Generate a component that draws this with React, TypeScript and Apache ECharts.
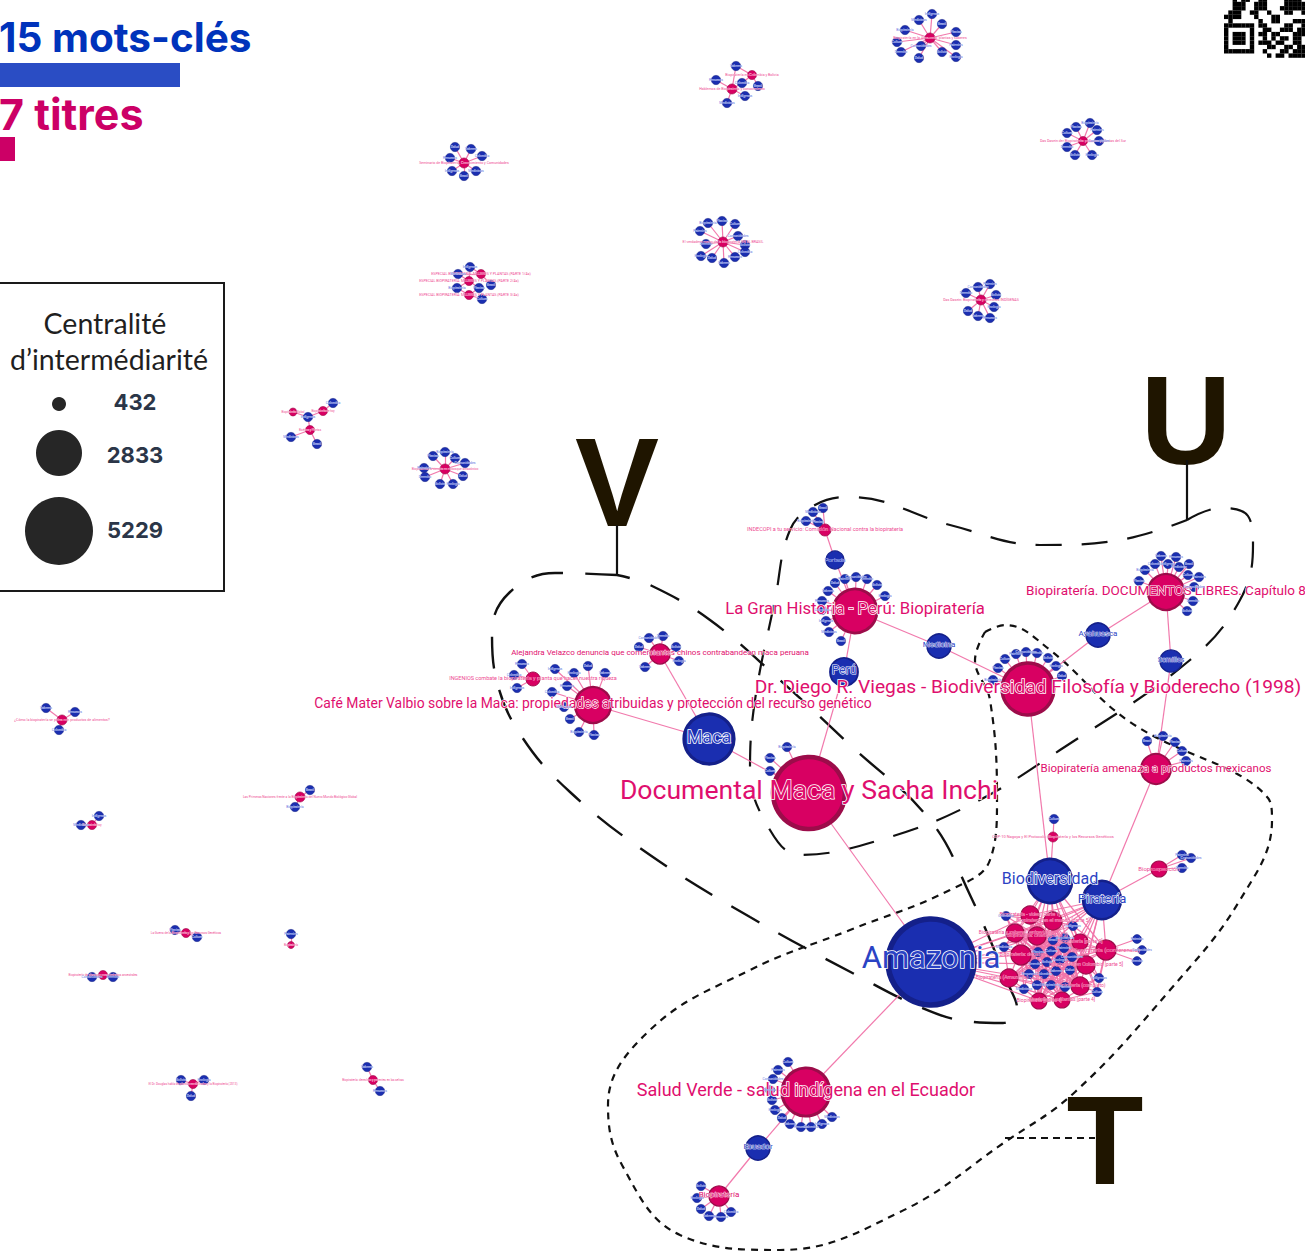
import React, { useEffect, useRef } from "react";
import * as echarts from "echarts";

const W = 1305;
const H = 1256;
const PINK = "#d80062";
const PINK_DARK = "#9c0c4a";
const BLUE = "#1a2eb0";
const BLUE_DARK = "#14208a";
const EDGE = "#f072a8";

// [label, x, y, radius, label font size]
type N = [string, number, number, number, number];

const titleNodes: N[] = [
  ["Documental Maca y Sacha Inchi", 809, 793, 36, 26.6],
  ["La Gran Historia - Perú: Biopiratería", 855, 611, 22, 16.7],
  ["Dr. Diego R. Viegas - Biodiversidad Filosofía y Bioderecho (1998)", 1028, 689, 26, 19.2],
  ["Biopiratería. DOCUMENTOS LIBRES. Capítulo 8", 1166, 592, 18, 13.5],
  ["Café Mater Valbio sobre la Maca: propiedades atribuidas y protección del recurso genético", 593, 705, 18, 13.9],
  ["Salud Verde - salud indígena en el Ecuador", 806, 1092, 24, 18],
  ["Biopiratería amenaza a productos mexicanos", 1156, 769, 15, 11.5],
  ["Alejandra Velazco denuncia que comerciantes chinos contrabandean maca peruana", 660, 654, 10, 8],
  ["INGENIOS combate la biopiratería y planta que hacer nuestra riqueza", 533, 679, 7, 5.5],
  ["INDECOPI a tu servicio: Comisión Nacional contra la biopiratería", 825, 530, 6, 5.5],
  ["COP-10 Nagoya y El Protocolo: Biopiratería y los Recursos Genéticos", 1053, 837, 5, 4],
  ["Bioprospección", 1159, 869, 8, 6],
  ["Biopiratería", 719, 1196, 10, 8],
  ["Biopiratería en la Amazonía: plantas y saberes", 930, 38, 5, 3.6],
  ["Hablemos de Biopiratería y conocimiento", 732, 89, 5, 3.6],
  ["Biopiratería en Colombia y Bolivia", 752, 75, 4.5, 3.6],
  ["Das Dasein der Biopiratería: patentes y plantas del Sur", 1083, 141, 4.5, 3.6],
  ["Seminario de Biopiratería, Conocimiento y Comunidades", 464, 163, 5, 3.6],
  ["El verdadero rostro de la biopiratería EN EL BRASIL", 723, 242, 5, 3.6],
  ["ESPECIAL BIOPIRATERÍA: MUJERES Y PLANTAS (PARTE 1/4a)", 481, 274, 4.5, 3.6],
  ["ESPECIAL BIOPIRATERÍA: MUJERES Y PLANTAS (PARTE 2/4a)", 469, 281, 4.5, 3.6],
  ["ESPECIAL BIOPIRATERÍA: MUJERES Y PLANTAS (PARTE 3/4a)", 469, 295, 4.5, 3.6],
  ["Das Dasein: Biopiratería y derechos INDÍGENAS", 981, 300, 5, 3.6],
  ["Biopiratería de hoy", 323, 411, 4.5, 2.8],
  ["Bioética y Plantas", 310, 430, 4.5, 2.8],
  ["Biopiratería Global", 293, 412, 4, 2.8],
  ["Biopiratería: la ciencia en el bosque amazónico", 445, 469, 5, 3.2],
  ["¿Cómo la biopiratería se pelea con productos de alimentos?", 62, 720, 5, 3.6],
  ["Biopiratería hoy", 92, 825, 4.5, 2.8],
  ["Las Primeras Naciones frente a la Biopiratería del Nuevo Mundo Biológico Global", 300, 797, 5, 3.2],
  ["La Guerra de la Biopiratería y los Recursos Genéticos", 186, 933, 4.5, 3],
  ["Biopiratería", 291, 945, 3.5, 2.8],
  ["Biopiratería de plantas y conocimientos ancestrales", 103, 975, 4.5, 3],
  ["El Dr. Douglas habla de plantas medicinales y la Biopiratería (2013)", 193, 1084, 4.5, 3],
  ["Biopiratería: derechos y patentes en las selvas", 373, 1080, 4.5, 3],
];

const keywordNodes: N[] = [
  ["Amazonia", 931, 962, 43, 31],
  ["Maca", 709, 739, 25, 18],
  ["Biodiversidad", 1050, 881, 22, 16],
  ["Piratería", 1102, 900, 19, 13],
  ["Perú", 844, 672, 14, 12],
  ["Medicina", 939, 646, 12, 8],
  ["Ayahuasca", 1098, 635, 12, 8],
  ["Semillas", 1171, 661, 11, 7],
  ["Ecuador", 758, 1148, 12, 8],
  ["Portada", 835, 560, 9, 6],
];

// Links between named titles and keywords
const bridgeLinks: [string, string][] = [
  ["Documental Maca y Sacha Inchi", "Maca"],
  ["Documental Maca y Sacha Inchi", "Perú"],
  ["Documental Maca y Sacha Inchi", "Amazonia"],
  ["Café Mater Valbio sobre la Maca: propiedades atribuidas y protección del recurso genético", "Maca"],
  ["Alejandra Velazco denuncia que comerciantes chinos contrabandean maca peruana", "Maca"],
  ["La Gran Historia - Perú: Biopiratería", "Perú"],
  ["La Gran Historia - Perú: Biopiratería", "Medicina"],
  ["La Gran Historia - Perú: Biopiratería", "Portada"],
  ["INDECOPI a tu servicio: Comisión Nacional contra la biopiratería", "Portada"],
  ["Dr. Diego R. Viegas - Biodiversidad Filosofía y Bioderecho (1998)", "Medicina"],
  ["Dr. Diego R. Viegas - Biodiversidad Filosofía y Bioderecho (1998)", "Ayahuasca"],
  ["Dr. Diego R. Viegas - Biodiversidad Filosofía y Bioderecho (1998)", "Biodiversidad"],
  ["Biopiratería. DOCUMENTOS LIBRES. Capítulo 8", "Ayahuasca"],
  ["Biopiratería. DOCUMENTOS LIBRES. Capítulo 8", "Semillas"],
  ["Biopiratería amenaza a productos mexicanos", "Semillas"],
  ["Biopiratería amenaza a productos mexicanos", "Piratería"],
  ["COP-10 Nagoya y El Protocolo: Biopiratería y los Recursos Genéticos", "Biodiversidad"],
  ["Bioprospección", "Piratería"],
  ["Salud Verde - salud indígena en el Ecuador", "Amazonia"],
  ["Salud Verde - salud indígena en el Ecuador", "Ecuador"],
  ["Biopiratería", "Ecuador"],
];

const leafWords = ["Biopiratería", "Plantas", "Cultura", "Patentes", "Comunidades", "Derecho", "Bolivia", "Ecología", "Salud", "Saberes", "Recursos", "Colombia", "Indígenas", "Medicinas", "Brasil"];

// Small keyword dots attached to a title: [title index, points]
const leafGroups: [number, [number, number][]][] = [
  [0, [[787, 747], [770, 758], [770, 771]]],
  [1, [[845, 579], [856, 577], [867, 579], [877, 585], [885, 596], [835, 583], [828, 591], [822, 601], [822, 610], [826, 621], [829, 632], [841, 641]]],
  [2, [[993, 680], [998, 668], [1005, 659], [1016, 654], [1026, 652], [1037, 653], [1048, 658], [1056, 666], [1062, 676]]],
  [3, [[1161, 556], [1176, 557], [1155, 564], [1168, 564], [1179, 567], [1189, 564], [1145, 570], [1139, 581], [1188, 575], [1199, 577], [1194, 587], [1193, 601], [1187, 611]]],
  [4, [[574, 673], [588, 666], [605, 673], [567, 686], [552, 692], [555, 669], [564, 707], [570, 719], [579, 732], [594, 735]]],
  [5, [[788, 1062], [778, 1070], [773, 1079], [770, 1090], [772, 1100], [775, 1110], [782, 1118], [790, 1124], [801, 1127], [811, 1127], [822, 1124], [832, 1117]]],
  [6, [[1147, 741], [1163, 736], [1175, 742], [1182, 751], [1186, 761]]],
  [7, [[649, 638], [663, 636], [676, 647], [679, 661], [639, 647], [645, 667]]],
  [8, [[522, 664], [514, 675], [517, 688]]],
  [9, [[813, 512], [823, 508], [806, 521], [818, 522]]],
  [10, [[1054, 819]]],
  [11, [[1182, 855], [1191, 858], [1182, 868]]],
  [12, [[701, 1186], [697, 1198], [701, 1209], [709, 1216], [721, 1217], [731, 1212]]],
  [13, [[932, 14], [919, 20], [942, 24], [905, 30], [956, 32], [897, 42], [956, 45], [921, 46], [901, 52], [942, 52], [956, 57], [919, 58]]],
  [14, [[736, 66], [716, 80], [742, 83], [745, 96], [727, 103]]],
  [15, [[736, 66], [742, 83], [758, 86]]],
  [16, [[1090, 123], [1076, 127], [1067, 133], [1097, 130], [1099, 141], [1067, 147], [1075, 155], [1092, 155]]],
  [17, [[455, 147], [471, 149], [450, 158], [482, 156], [452, 171], [476, 171], [464, 176]]],
  [18, [[708, 223], [722, 221], [735, 224], [700, 231], [738, 236], [706, 244], [745, 245], [701, 256], [712, 258], [724, 263], [735, 257], [745, 252]]],
  [19, [[470, 267], [458, 274], [491, 285]]],
  [20, [[470, 267], [458, 274], [457, 288], [479, 288]]],
  [21, [[457, 288], [479, 288], [482, 299]]],
  [22, [[990, 284], [978, 287], [966, 293], [996, 295], [994, 307], [968, 311], [978, 316], [990, 318]]],
  [23, [[333, 403], [308, 417]]],
  [24, [[308, 417], [291, 437], [317, 444]]],
  [25, [[308, 417]]],
  [26, [[445, 452], [433, 456], [455, 458], [424, 468], [465, 463], [425, 477], [440, 484], [453, 484], [463, 476]]],
  [27, [[46, 708], [75, 712], [59, 730]]],
  [28, [[99, 816], [81, 825]]],
  [29, [[310, 790], [295, 807]]],
  [30, [[175, 930], [197, 937]]],
  [31, [[291, 934]]],
  [32, [[92, 977], [113, 977]]],
  [33, [[181, 1080], [204, 1080], [191, 1096]]],
  [34, [[367, 1067], [380, 1091]]],
];

// Dense core
const coreTitles: N[] = [
  ["Biopiratería - video [parte 1]", 1030, 915, 9, 5],
  ["Biopiratería en el mundo [parte 5]", 1053, 921, 9, 5],
  ["Biopiratería y saberes: entrevista", 1015, 933, 9, 5],
  ["Biopiratería: charla [parte 2]", 1037, 936, 9, 5],
  ["Biopiratería [parte 3]", 1080, 942, 8, 5],
  ["Biopiratería (conferencia)", 1106, 950, 10, 6],
  ["Biopiratería: debate", 1021, 955, 10, 5],
  ["Biopiratería en Colombia [parte 5]", 1086, 965, 9, 5],
  ["Biopiratería (Amazonía) - Foro", 1009, 978, 9, 5],
  ["Biopiratería (completo)", 1080, 986, 9, 5],
  ["Biopiratería [parte 4]", 1039, 1001, 8, 5],
  ["Biopiratería y plantas [parte 4]", 1062, 1000, 8, 5],
];
const coreKeywords: [number, number][] = [
  [1006, 916], [1073, 926], [1004, 947], [1053, 940], [1065, 938], [1038, 952], [1051, 951], [1064, 948], [1072, 957], [1035, 964], [1047, 962], [1060, 960], [1070, 970], [1056, 971], [1029, 974], [1044, 974], [1099, 978], [1024, 989], [1037, 985], [1051, 985], [1065, 987], [1097, 992],
];
const coreOuterLeaves: [number, number][] = [[1137, 939], [1142, 950], [1137, 961]];
const coreToHubs: [number, string[]][] = [
  [0, ["Amazonia", "Biodiversidad", "Piratería"]],
  [1, ["Amazonia", "Biodiversidad", "Piratería"]],
  [2, ["Amazonia", "Biodiversidad", "Piratería"]],
  [3, ["Amazonia", "Biodiversidad", "Piratería"]],
  [4, ["Amazonia", "Biodiversidad", "Piratería"]],
  [5, ["Biodiversidad", "Piratería"]],
  [6, ["Amazonia", "Biodiversidad", "Piratería"]],
  [7, ["Amazonia", "Biodiversidad", "Piratería"]],
  [8, ["Amazonia", "Biodiversidad", "Piratería"]],
  [9, ["Amazonia", "Biodiversidad", "Piratería"]],
  [10, ["Amazonia", "Biodiversidad", "Piratería"]],
  [11, ["Amazonia", "Biodiversidad", "Piratería"]],
];

// Hand-drawn hulls
const hullV: [number, number][] = [[617, 575], [555, 573], [510, 592], [492, 632], [497, 682], [522, 737], [570, 792], [650, 855], [750, 917], [860, 977], [920, 1007], [965, 1021], [1003, 1023], [1017, 1008], [1010, 988], [970, 895], [930, 820], [850, 745], [780, 680], [710, 620], [650, 585], [617, 575]];
const hullU: [number, number][] = [[1187, 520], [1220, 508], [1248, 516], [1253, 545], [1240, 600], [1190, 660], [1060, 750], [970, 805], [880, 840], [800, 855], [770, 830], [750, 770], [755, 700], [775, 600], [790, 530], [815, 505], [850, 497], [950, 525], [1040, 545], [1120, 540], [1187, 520]];
const hullT: [number, number][] = [[985, 632], [1005, 625], [1050, 650], [1130, 722], [1268, 798], [1272, 820], [1240, 900], [1170, 990], [1075, 1092], [1005, 1142], [900, 1212], [780, 1250], [680, 1235], [622, 1165], [608, 1105], [650, 1030], [750, 970], [850, 930], [950, 890], [990, 860], [997, 800], [990, 700], [975, 660], [985, 632]];
const stemV: [number, number][] = [[617, 525], [617, 575]];
const stemU: [number, number][] = [[1187, 460], [1187, 520]];
const stemT: [number, number][] = [[1005, 1138], [1095, 1138]];

const legendValues = ["432", "2833", "5229"];
const legendCenters: [number, number][] = [[59, 404], [59, 453], [59, 531]];
const legendSizes = [14, 46, 68];

const countLabels = ["15 mots-clés", "7 titres"];
const countBars = [180, 15];

const qrRows = [
  "00101100110000111100",
  "00111001110000111110",
  "00111001110001111110",
  "01110011001000110011",
  "11110001000110000000",
  "01000000100110001111",
  "11111110110000110011",
  "10000010011001110110",
  "10111010110110001111",
  "10111010010101101101",
  "10111010111011001100",
  "10000010001100110111",
  "11111110010001101110",
  "00000000001011011111",
];

function buildGraph() {
  const nodes: any[] = [];
  const links: any[] = [];
  const index: Record<string, number> = {};
  const add = (name: string, x: number, y: number, r: number, fs: number, kind: "t" | "k") => {
    const i = nodes.length;
    const t = kind === "t";
    const tiny = fs < 6.5;
    nodes.push({
      id: String(i),
      name,
      value: [x, y],
      symbolSize: 2 * r,
      itemStyle: {
        color: t ? PINK : BLUE,
        borderColor: t ? PINK_DARK : BLUE_DARK,
        borderWidth: Math.max(0.6, r * 0.13),
      },
      label: {
        show: true,
        position: "inside",
        offset: [0, -fs * 0.13],
        formatter: "{b}",
        fontSize: fs,
        fontFamily: "Roboto",
        color: t ? (tiny ? "#ee4a92" : "#df0f6e") : tiny ? "#5d72de" : "#2b43c4",
        textBorderColor: "#ffffff",
        textBorderWidth: tiny ? 0.2 : Math.min(1.6, fs * 0.09),
        overflow: "none",
      },
    });
    return i;
  };
  const titleIdx = titleNodes.map((n) => add(n[0], n[1], n[2], n[3], n[4], "t"));
  keywordNodes.forEach((n) => {
    index[n[0]] = add(n[0], n[1], n[2], n[3], n[4], "k");
  });
  titleNodes.forEach((n, i) => {
    if (index[n[0]] === undefined) index[n[0]] = titleIdx[i];
  });
  bridgeLinks.forEach(([a, b]) => links.push({ source: index[a], target: index[b] }));

  let w = 0;
  const leafAt: Record<string, number> = {};
  leafGroups.forEach(([t, pts]) => {
    pts.forEach(([x, y]) => {
      const k = x + "," + y;
      if (leafAt[k] === undefined) {
        leafAt[k] = add(leafWords[w++ % leafWords.length], x, y, 4.6, 3.4, "k");
      }
      links.push({ source: titleIdx[t], target: leafAt[k] });
    });
  });

  const coreT = coreTitles.map((n) => add(n[0], n[1], n[2], n[3], n[4], "t"));
  const coreK = coreKeywords.map(([x, y]) => add(leafWords[w++ % leafWords.length], x, y, 4.6, 3.6, "k"));
  coreToHubs.forEach(([t, hs]) => hs.forEach((h) => links.push({ source: coreT[t], target: index[h] })));
  coreTitles.forEach((c, i) => {
    coreKeywords.forEach(([x, y], j) => {
      if (Math.hypot(c[1] - x, c[2] - y) < 55) links.push({ source: coreT[i], target: coreK[j] });
    });
  });
  coreOuterLeaves.forEach(([x, y]) => {
    const l = add(leafWords[w++ % leafWords.length], x, y, 4.4, 3.2, "k");
    links.push({ source: coreT[5], target: l });
  });
  return { nodes, links };
}

function App() {
  const ref = useRef<HTMLDivElement>(null);
  useEffect(() => {
    const chart = echarts.init(ref.current!, null, { renderer: "svg" });
    const { nodes, links } = buildGraph();
    const hull = (data: [number, number][], dash: number[], width: number, smooth: number | boolean) => ({
      type: "line",
      xAxisIndex: 0,
      yAxisIndex: 0,
      data,
      smooth,
      silent: true,
      symbol: "none",
      z: 1,
      lineStyle: { color: "#111111", width, type: dash },
    });
    const text = (s: string, x: number, y: number, size: number, color: string, font: string, weight: any, align = "center") => ({
      type: "text",
      x,
      y,
      style: { text: s, fontSize: size, fill: color, fontFamily: font, fontWeight: weight, textAlign: align, textVerticalAlign: "middle" },
    });
    const qrCell = 4.3;
    const qr: any[] = [];
    qrRows.forEach((row, r) => {
      row.split("").forEach((c, k) => {
        if (c === "1") {
          qr.push({
            type: "rect",
            shape: { x: 1224 + k * qrCell, y: (r - 0.35) * qrCell - 1, width: qrCell + 0.1, height: qrCell + 0.1 },
            style: { fill: "#000" },
          });
        }
      });
    });
    chart.setOption({
      animation: false,
      backgroundColor: "#ffffff",
      grid: [
        { left: 0, top: 0, width: W, height: H },
        { left: 0, top: 38, width: W, height: 148 },
      ],
      xAxis: [
        { type: "value", min: 0, max: W, show: false, gridIndex: 0 },
        { type: "value", min: 0, max: W, show: false, gridIndex: 1 },
      ],
      yAxis: [
        { type: "value", min: 0, max: H, inverse: true, show: false, gridIndex: 0 },
        { type: "category", data: countLabels, inverse: true, show: false, gridIndex: 1 },
      ],
      series: [
        {
          type: "bar",
          xAxisIndex: 1,
          yAxisIndex: 1,
          barWidth: 24,
          silent: true,
          data: [
            { value: countBars[0], itemStyle: { color: "#2a4dc4" } },
            { value: countBars[1], itemStyle: { color: "#cc0066" } },
          ],
        },
        hull(hullV, [32, 22], 2.4, 0.4),
        hull(hullU, [26, 20], 2.2, 0.4),
        hull(hullT, [7, 6], 2.2, 0.4),
        hull(stemV, [100, 0], 2.2, false),
        hull(stemU, [100, 0], 2.2, false),
        hull(stemT, [7, 5], 2.2, false),
        {
          type: "graph",
          coordinateSystem: "cartesian2d",
          xAxisIndex: 0,
          yAxisIndex: 0,
          layout: "none",
          roam: false,
          silent: true,
          z: 3,
          data: nodes,
          links,
          edgeSymbol: ["none", "none"],
          lineStyle: { color: EDGE, width: 1.2, opacity: 0.95, curveness: 0 },
        },
        {
          type: "scatter",
          xAxisIndex: 0,
          yAxisIndex: 0,
          silent: true,
          symbol: "circle",
          z: 4,
          data: legendCenters.map((c, i) => ({ value: c, symbolSize: legendSizes[i] })),
          itemStyle: { color: "#262626", opacity: 1 },
        },
      ],
      graphic: [
        text(countLabels[0], -1, 37, 40.5, "#0033bb", "Inter", 700, "left"),
        text(countLabels[1], -1, 114, 43, "#cc0066", "Inter", 700, "left"),
        {
          type: "rect",
          shape: { x: -2, y: 283, width: 226, height: 308 },
          style: { fill: "transparent", stroke: "#1a1a1a", lineWidth: 2 },
        },
        text("Centralité", 105, 323, 28.5, "#1f1f1f", "Lato", 400),
        text("d’intermédiarité", 109, 359, 28.5, "#1f1f1f", "Lato", 400),
        text(legendValues[0], 135, 402, 22, "#2b3648", "Inter", 700),
        text(legendValues[1], 135, 455, 22, "#2b3648", "Inter", 700),
        text(legendValues[2], 135, 530, 22, "#2b3648", "Inter", 700),
        text("V", 617, 482, 126, "#1f1500", "Liberation Sans", 700),
        text("U", 1186, 420, 126, "#1f1500", "Liberation Sans", 700),
        text("T", 1105, 1140, 126, "#1f1500", "Liberation Sans", 700),
        ...qr,
      ],
    });
    return () => chart.dispose();
  }, []);
  return <div ref={ref} style={{ position: "fixed", left: 0, top: 0, width: W, height: H }} />;
}

export default App;
